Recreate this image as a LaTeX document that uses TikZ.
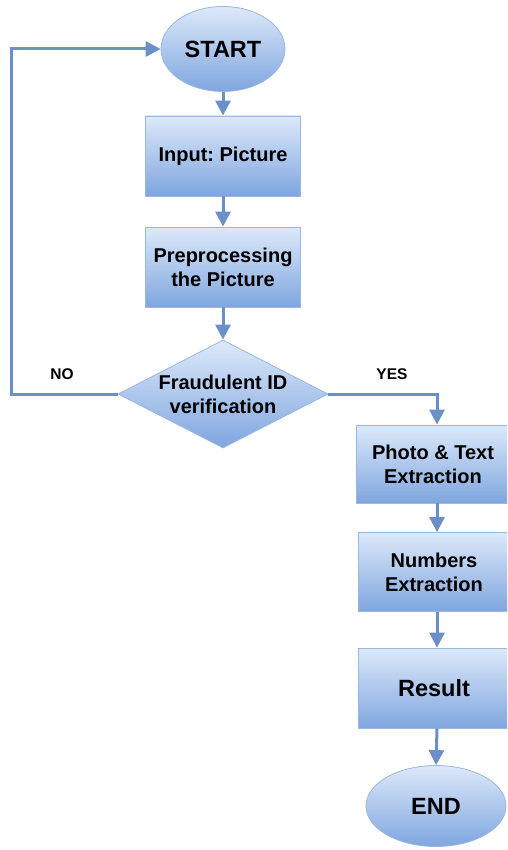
\documentclass[tikz,border=0pt]{standalone}
\usepackage{fontspec}
\setmainfont{Liberation Sans}
\frenchspacing
\usetikzlibrary{shapes.geometric,arrows.meta}
\definecolor{flowline}{HTML}{6B8FC8}
\definecolor{boxtop}{HTML}{DDE9FA}
\definecolor{boxbot}{HTML}{7FA6DF}
\definecolor{boxedge}{HTML}{9AB7E0}
\tikzset{
  shaded/.style={draw=boxedge, line width=0.8pt, top color=boxtop, bottom color=boxbot, inner sep=0pt},
  stepbox/.style={shaded, rectangle, align=center, font=\bfseries\fontsize{20}{24}\selectfont},
  terminal/.style={shaded, ellipse, font=\bfseries\fontsize{23.5}{27}\selectfont},
  decision/.style={shaded, diamond, minimum width=210pt, minimum height=108pt},
  flow/.style={draw=flowline, line width=3pt, -{Triangle[width=15pt,length=15pt]}},
  branch/.style={font=\bfseries\fontsize{15.5}{18}\selectfont}
}
\begin{document}
\begin{tikzpicture}[x=1pt,y=-1pt]
  \useasboundingbox (0,0) rectangle (507,850);
  \clip (0,0) rectangle (507,850);

  % left column
  \node[terminal, minimum width=124pt, minimum height=85pt] (start) at (223,49) {START};
  \node[stepbox, minimum width=155pt, minimum height=80pt] (input) at (223,156) {Input: Picture};
  \node[stepbox, minimum width=155pt, minimum height=80pt] (prep) at (223,267) {Preprocessing\\the Picture};
  \node[decision] (dec) at (223,394) {};
  \node[align=center, font=\bfseries\fontsize{20}{24}\selectfont] (dectext) at (dec) {Fraudulent ID\\verification};

  % right column
  \node[stepbox, minimum width=154pt, minimum height=78pt] (photo) at (433,464) {Photo \& Text\\Extraction};
  \node[stepbox, minimum width=152pt, minimum height=79pt] (nums) at (434,572) {Numbers\\Extraction};
  \node[stepbox, minimum width=152pt, minimum height=80pt, font=\bfseries\fontsize{23.5}{27}\selectfont] (result) at (434,688) {Result};
  \node[terminal, minimum width=140pt, minimum height=81pt] (end) at (436,806) {END};

  % branch labels
  \node[branch] (nolabel) at (62,374) {NO};
  \node[branch] (yeslabel) at (392,374) {YES};

  % connectors
  \coordinate (loopbot) at (11,394);
  \coordinate (looptop) at (11,49);
  \coordinate (yescorner) at (437,394);
  \draw[flow] (start) -- (input);
  \draw[flow] (input) -- (prep);
  \draw[flow] (prep) -- (dec.north);
  \draw[flow] (dec.west) -- (loopbot) -- (looptop) -- (start.west);
  \draw[flow] (dec.east) -- (yescorner) -- (yescorner |- photo.north);
  \draw[flow] (yescorner |- photo.south) -- (yescorner |- nums.north);
  \draw[flow] (yescorner |- nums.south) -- (yescorner |- result.north);
  \draw[flow] (yescorner |- result.south) -- (end.north);
\end{tikzpicture}
\end{document}
